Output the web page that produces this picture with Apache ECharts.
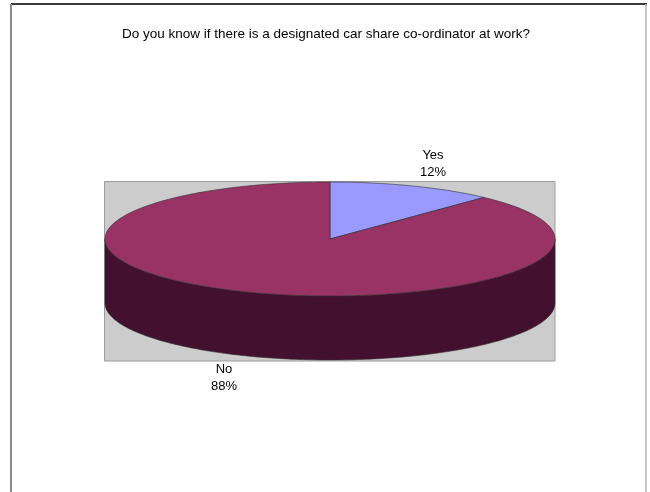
<!DOCTYPE html>
<html>
<head>
<meta charset="utf-8">
<script src="https://cdn.jsdelivr.net/npm/echarts@6/dist/echarts.min.js"></script>
<style>
  html, body { margin: 0; padding: 0; background: #ffffff; }
  #chart { width: 650px; height: 492px; }
</style>
</head>
<body>
<div id="chart"></div>
<script>
// Survey answers and their shares (percent)
const categories = ['Yes', 'No'];
const shares = [12, 88];
const chartTitle = 'Do you know if there is a designated car share co-ordinator at work?';

// Slice colours: top face and darker side wall
const topColors = ['#9999FF', '#993366'];
const sideColors = ['#4C4C80', '#43112F'];

// Pie geometry (ellipse centre, radii and wall depth, in pixels)
const pie = { cx: 330, cy: 239, rx: 225, ry: 57, depth: 64 };
// Where each slice's label sits
const labelSpots = [[433, 164], [224, 378]];

const total = shares.reduce((a, b) => a + b, 0);
const starts = [];
shares.reduce((acc, v, i) => { starts[i] = acc; return acc + v; }, 0);

// Angle measured clockwise from the top of the ellipse, in degrees
function rimPoint(deg, dy) {
  const r = deg * Math.PI / 180;
  return [pie.cx + pie.rx * Math.sin(r), pie.cy - pie.ry * Math.cos(r) + (dy || 0)];
}
function arc(a0, a1, dy) {
  const pts = [];
  const n = Math.max(2, Math.ceil(Math.abs(a1 - a0)));
  for (let k = 0; k <= n; k++) pts.push(rimPoint(a0 + (a1 - a0) * k / n, dy));
  return pts;
}

const edge = { stroke: 'rgba(45,45,45,0.75)', lineWidth: 0.8 };

function renderItem(params, api) {
  const i = params.dataIndex;
  const v = api.value(0);
  const a0 = starts[i] / total * 360;
  const a1 = (starts[i] + v) / total * 360;
  const children = [];

  // Front wall: only the part between 90° and 270° faces the viewer
  const s0 = Math.max(a0, 90), s1 = Math.min(a1, 270);
  if (s1 > s0) {
    const topArc = arc(s0, s1, 0);
    const botArc = arc(s1, s0, pie.depth);
    children.push({
      type: 'polygon',
      shape: { points: topArc.concat(botArc) },
      style: Object.assign({ fill: sideColors[i] }, edge)
    });
  }

  // Top face of the slice
  children.push({
    type: 'polygon',
    shape: { points: [[pie.cx, pie.cy]].concat(arc(a0, a1, 0)) },
    style: Object.assign({ fill: topColors[i] }, edge)
  });

  // Category and percentage label
  children.push({
    type: 'text',
    x: labelSpots[i][0],
    y: labelSpots[i][1],
    style: {
      text: categories[i] + '\n' + Math.round(v / total * 100) + '%',
      align: 'center',
      verticalAlign: 'middle',
      fill: '#000000',
      font: '13px "Liberation Sans", Arial, sans-serif',
      lineHeight: 17
    }
  });

  return { type: 'group', children: children };
}

const chart = echarts.init(document.getElementById('chart'), null, { renderer: 'canvas' });
chart.setOption({
  backgroundColor: '#ffffff',
  animation: false,
  title: {
    text: chartTitle,
    left: 321,
    top: 22,
    textAlign: 'center',
    textStyle: {
      fontFamily: '"Liberation Sans", Arial, sans-serif',
      fontSize: 13.5,
      fontWeight: 'normal',
      color: '#000000'
    }
  },
  graphic: [
    // Window frame
    { type: 'line', z: 1, shape: { x1: 11, y1: 4, x2: 647, y2: 4 }, style: { stroke: '#3a3a3a', lineWidth: 2 } },
    { type: 'line', z: 1, shape: { x1: 11, y1: 4, x2: 11, y2: 492 }, style: { stroke: '#8a8a8a', lineWidth: 2 } },
    { type: 'line', z: 1, shape: { x1: 646, y1: 4, x2: 646, y2: 492 }, style: { stroke: '#b5b5b5', lineWidth: 1.5 } },
    // Plot area behind the pie
    { type: 'rect', z: 1, shape: { x: 104.5, y: 181.5, width: 450.5, height: 179.5 },
      style: { fill: '#CCCCCC', stroke: '#9c9c9c', lineWidth: 1 } }
  ],
  series: [{
    type: 'custom',
    coordinateSystem: 'none',
    z: 10,
    renderItem: renderItem,
    data: shares.map((v, i) => ({ name: categories[i], value: [v] }))
  }]
});
</script>
</body>
</html>
